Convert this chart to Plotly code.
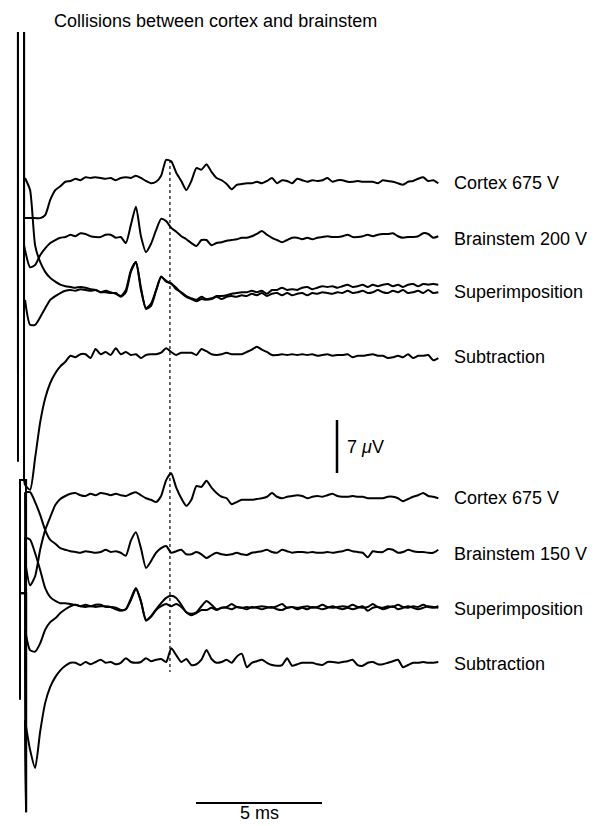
import plotly.graph_objects as go

# ---------------- data ----------------
SAMPLE_MS = 0.2
N_SAMPLES = 83
T_MS = [round(0.2 + SAMPLE_MS * k, 2) for k in range(N_SAMPLES)]  # sample times (ms)

LABELS = ["Cortex 675 V", "Brainstem 200 V", "Superimposition", "Subtraction",
          "Cortex 675 V", "Brainstem 150 V", "Superimposition", "Subtraction"]
TITLE = "Collisions between cortex and brainstem"

# responses in microvolts relative to each trace's own baseline
CORTEX_A = [-4.9, -4.9, -4.9, -4.9, -4.5, -2.5, -1.2, -0.7, -0.1, 0.0,
            0.3, 0.1, 0.5, 0.4, 0.5, 0.4, 0.3, 0.4, 0.1, 0.4,
            0.5, 0.4, 0.7, 0.4, 0.0, -0.3, -0.1, 0.7, 2.8, 2.6,
            1.1, 0.0, -1.2, 0.0, 1.7, 1.5, 2.2, 1.2, 0.4, 0.1,
            -0.4, -1.1, -0.5, -0.4, -0.3, -0.3, -0.1, -0.3, 0.0, 0.4,
            -0.3, 0.1, 0.0, -0.3, 0.3, 0.1, -0.1, 0.1, 0.0, 0.1,
            0.4, -0.1, 0.1, 0.1, -0.1, -0.1, 0.0, -0.1, -0.1, -0.1,
            -0.3, 0.1, 0.0, -0.1, -0.3, -0.5, -0.1, 0.0, 0.3, 0.5,
            0.0, 0.1, -0.3]
BRAINSTEM_200 = [-1.7, -4.0, -3.7, -2.4, -1.5, -0.8, -0.4, -0.1, 0.0, 0.3,
                 0.1, 0.5, 0.4, 0.1, 0.0, 0.0, 0.3, 0.3, -0.1, 0.0,
                 -0.8, 1.6, 4.0, 0.1, -2.0, -0.9, 0.9, 2.4, 2.1, 1.2,
                 0.7, 0.1, -0.3, -0.8, -1.2, -0.4, -0.4, -1.1, -0.8, -0.7,
                 -0.5, -0.4, -0.3, -0.1, -0.1, 0.1, 0.4, 0.8, 0.3, -0.1,
                 -0.4, -0.7, -0.4, -0.1, -0.1, -0.3, -0.1, -0.3, -0.1, 0.0,
                 0.1, 0.0, 0.0, 0.1, 0.3, 0.0, 0.0, 0.1, 0.3, 0.1,
                 0.3, 0.4, 0.4, 0.5, 0.1, -0.1, 0.0, 0.0, 0.1, 0.5,
                 0.4, -0.1, 0.1]
SUPERIMP_A1 = [14.8, 13.2, 5.9, 3.7, 2.4, 1.6, 1.1, 0.7, 0.5, 0.4,
               0.3, 0.4, 0.3, 0.1, 0.0, -0.3, -0.1, -0.3, -0.5, -0.8,
               0.0, 2.6, 3.7, 0.0, -2.4, -1.8, 0.0, 1.8, 1.1, 0.9,
               0.1, -0.3, -0.8, -1.1, -1.3, -0.9, -1.2, -1.1, -0.8, -0.8,
               -0.7, -0.5, -0.4, -0.3, -0.3, -0.1, -0.3, -0.1, -0.5, 0.0,
               0.0, 0.3, 0.0, 0.1, 0.0, 0.3, 0.4, 0.1, 0.3, 0.5,
               0.4, 0.5, 0.3, 0.5, 0.7, 0.4, 0.5, 0.7, 0.4, 0.7,
               0.5, 0.7, 0.8, 0.5, 0.7, 0.4, 0.7, 0.8, 0.5, 0.8,
               0.7, 0.8, 0.7]
SUPERIMP_A2 = [-1.3, -4.6, -4.6, -3.6, -2.4, -1.3, -0.8, -0.4, -0.1, 0.0,
               -0.1, 0.1, 0.0, -0.1, 0.0, -0.3, -0.3, -0.4, -0.4, -0.9,
               -0.3, 2.4, 3.7, 0.3, -2.5, -2.1, -0.1, 1.7, 1.2, 0.8,
               0.3, -0.4, -0.9, -1.2, -1.5, -1.2, -1.3, -1.2, -0.9, -1.2,
               -0.9, -0.8, -0.9, -0.7, -0.8, -0.5, -0.7, -0.4, -0.8, -0.5,
               -0.4, -0.7, -0.4, -0.7, -0.5, -0.4, -0.7, -0.4, -0.5, -0.3,
               -0.4, -0.5, -0.3, -0.4, -0.1, -0.4, -0.3, -0.1, -0.4, -0.3,
               0.0, -0.3, -0.4, -0.1, -0.3, 0.0, -0.4, -0.3, -0.1, -0.4,
               0.0, -0.4, -0.3]
SUBTRACT_A = [-17.2, -17.8, -13.6, -8.9, -5.7, -3.7, -2.4, -1.5, -0.9, -0.1,
              -0.3, 0.1, 0.1, -0.4, 0.8, 0.1, 0.4, 0.0, 0.9, 0.1,
              0.4, 0.0, 0.1, -0.4, 0.0, 0.1, 0.1, 0.3, 0.9, 0.4,
              0.0, 0.3, 0.3, 0.3, 0.0, 0.8, 0.5, 0.1, 0.0, 0.1,
              0.3, 0.1, 0.1, 0.1, 0.4, 0.7, 1.1, 0.7, 0.4, 0.0,
              0.0, 0.1, 0.0, 0.1, 0.0, 0.1, 0.0, 0.1, -0.1, 0.0,
              0.1, -0.1, 0.0, 0.0, 0.1, -0.3, -0.1, -0.1, 0.0, 0.1,
              -0.1, -0.1, -0.4, -0.3, -0.1, -0.3, 0.1, -0.4, -0.1, -0.1,
              0.0, -0.7, -0.4]
CORTEX_B = [-8.5, -11.8, -10.6, -7.1, -4.5, -2.8, -1.2, -0.4, 0.0, 0.3,
            0.4, 0.1, 0.0, 0.3, 0.1, 0.4, 0.3, 0.1, 0.3, 0.1,
            0.0, 0.3, 0.5, 0.1, -0.3, -0.5, -0.8, 0.0, 2.1, 3.0,
            1.1, -0.3, -1.3, -0.5, 1.3, 1.2, 2.0, 1.1, 0.4, -0.1,
            -0.3, -1.1, -0.8, -0.5, -0.5, -0.5, -0.4, -0.3, -0.1, 0.4,
            -0.1, -0.3, -0.1, 0.0, 0.1, 0.0, -0.3, -0.1, 0.0, -0.1,
            0.1, 0.3, 0.0, -0.1, -0.1, 0.0, -0.1, -0.1, -0.3, -0.3,
            -0.3, -0.3, -0.1, -0.1, -0.3, -0.7, -0.4, -0.1, 0.1, 0.4,
            0.0, -0.1, -0.3]
BRAINSTEM_150 = [7.9, 7.9, 6.6, 4.9, 2.9, 1.6, 1.1, 0.5, 0.3, 0.1,
                 0.0, -0.1, 0.1, 0.0, -0.1, 0.0, 0.3, 0.0, 0.1, -0.1,
                 -0.5, 1.5, 2.6, 0.5, -2.1, -1.2, -0.1, 0.5, 0.8, -0.1,
                 0.1, 0.3, -0.3, -0.3, 0.0, -0.3, -0.8, -0.4, -0.1, -0.3,
                 -0.4, -0.3, -0.1, -0.3, -0.4, -0.1, 0.0, 0.1, 0.3, 0.0,
                 -0.1, 0.3, 0.1, -0.1, 0.0, 0.0, -0.1, 0.0, -0.1, -0.1,
                 0.0, -0.1, 0.0, 0.1, 0.3, 0.1, 0.0, -0.1, -0.7, 0.1,
                 0.0, 0.0, 0.4, 0.3, -0.1, 0.0, 0.3, 0.1, 0.0, 0.0,
                 -0.1, -0.1, 0.3]
SUPERIMP_B1 = [9.2, 8.9, 7.1, 4.9, 2.5, 1.3, 0.8, 0.5, 0.5, 0.4,
               0.3, 0.1, 0.3, 0.1, 0.3, 0.3, 0.0, 0.0, -0.1, -0.4,
               -0.3, 1.1, 2.5, 0.8, -1.7, -1.2, -0.3, 0.5, 1.2, 1.5,
               1.2, 0.3, -0.7, -0.9, -0.7, 0.1, 0.8, 0.3, -0.3, -0.1,
               0.0, 0.4, 0.0, -0.1, 0.0, -0.1, 0.0, 0.1, 0.0, -0.1,
               0.1, 0.4, -0.1, 0.0, -0.1, 0.0, 0.1, -0.1, 0.0, 0.3,
               0.0, -0.1, 0.0, 0.1, 0.0, 0.3, 0.0, -0.1, 0.0, 0.4,
               0.0, -0.1, 0.1, 0.0, 0.3, 0.0, -0.1, 0.1, 0.0, 0.3,
               0.0, -0.1, 0.1]
SUPERIMP_B2 = [-3.0, -5.7, -5.9, -4.8, -3.0, -2.0, -1.5, -0.8, -0.3, 0.1,
               0.3, 0.1, 0.0, 0.1, 0.0, 0.1, 0.1, 0.0, -0.3, -0.5,
               -0.3, 0.9, 2.4, 0.7, -1.8, -1.3, -0.4, 0.1, 0.4, 0.1,
               0.4, 0.0, -0.7, -1.1, -0.8, -0.4, -0.4, -0.1, -0.4, -0.1,
               -0.1, -0.3, 0.0, -0.1, -0.3, 0.0, -0.1, -0.3, -0.1, 0.0,
               -0.3, -0.4, -0.1, 0.0, -0.3, -0.1, -0.3, 0.0, -0.1, -0.3,
               -0.1, 0.1, -0.1, -0.3, -0.1, -0.3, -0.1, 0.1, -0.5, -0.1,
               0.0, -0.3, -0.1, 0.1, -0.3, -0.1, 0.1, -0.1, -0.3, -0.1,
               0.1, 0.0, -0.1]
SUBTRACT_B = [-7.7, -11.6, -14.0, -9.2, -5.4, -3.3, -2.0, -1.1, -0.5, -0.1,
              -0.1, -0.4, 0.0, -0.3, 0.0, 0.3, -0.1, 0.0, -0.3, -0.1,
              0.5, 0.0, -0.1, 0.0, 0.5, 0.1, 0.3, 0.4, 0.0, 1.8,
              0.9, 0.0, 0.4, -0.4, -0.3, 0.3, 1.6, 0.4, -0.1, 0.0,
              0.3, -0.1, 0.7, 1.1, -0.7, -0.1, 0.1, 0.3, -0.1, -0.4,
              -0.5, -0.4, 0.5, -0.5, -0.3, -0.1, -0.1, -0.1, -0.3, -0.4,
              0.0, 0.0, -0.1, 0.0, 0.1, 0.3, -0.4, -0.5, -0.1, 0.0,
              -0.3, -0.3, -0.1, 0.1, 0.3, -0.7, -0.4, -0.1, -0.1, 0.0,
              -0.1, -0.1, 0.0]

# stimulus artefact (times in ms, levels in microvolts rel. to baseline; off-scale = saturated)
ART_T_UPPER = [-0.08, -0.08, 0.16, 0.16]
ART_T_LOWER = [0.0, 0.0, 0.24, 0.24]
ART_CORTEX_A = [12.3, 60.0, 60.0, -4.9]
ART_BRAINSTEM_200 = [-18.0, 60.0, 60.0, -1.1]
ART_SUPERIMP_A1 = [-3.3, 60.0, 60.0, 14.5]
ART_SUPERIMP_A2 = [-11.0, 60.0, 60.0, -2.6]
ART_SUBTRACT_A = [-14.1, 60.0, 60.0, -16.5]
ART_CORTEX_B = [-25.6, 2.1, 2.1, -41.7]
ART_BRAINSTEM_150 = [-1.1, 9.5, 9.5, -34.3]
ART_SUPERIMP_B1 = [-4.4, 1.8, 1.8, -27.1]
ART_SUPERIMP_B2 = [0.9, 1.8, 1.8, -27.1]
ART_SUBTRACT_B = [-5.0, 9.1, 9.1, -19.8]

SCALE_UV = 7
SCALE_MS = 5
MARKER_MS = 5.95  # dotted latency marker

# ---------------- layout helpers (positions, in reference-page pixels) ----------------
PX_PER_MS = 25.2
PX_PER_UV = 7.57
PAGE_W, PAGE_H = 613, 826
BODY = 8                      # default page margin around the figure
W, H = PAGE_W - BODY, PAGE_H - BODY
TOP_PX = 32                   # top of the data area (page pixels)
X0_PX = 20                    # stimulus time position (page pixels)


def ypx(px):
    return (PAGE_H - px) / PX_PER_UV


def xpx(px):
    return (px - X0_PX) / PX_PER_MS


BASELINE_PX = [181, 237, 290, 355, 496, 552, 607, 662]
OFFS = [ypx(p) for p in BASELINE_PX]

traces = [
    (CORTEX_A, ART_CORTEX_A, ART_T_UPPER, 0),
    (BRAINSTEM_200, ART_BRAINSTEM_200, ART_T_UPPER, 1),
    (SUPERIMP_A1, ART_SUPERIMP_A1, ART_T_UPPER, 2),
    (SUPERIMP_A2, ART_SUPERIMP_A2, ART_T_UPPER, 2),
    (SUBTRACT_A, ART_SUBTRACT_A, ART_T_UPPER, 3),
    (CORTEX_B, ART_CORTEX_B, ART_T_LOWER, 4),
    (BRAINSTEM_150, ART_BRAINSTEM_150, ART_T_LOWER, 5),
    (SUPERIMP_B1, ART_SUPERIMP_B1, ART_T_LOWER, 6),
    (SUPERIMP_B2, ART_SUPERIMP_B2, ART_T_LOWER, 6),
    (SUBTRACT_B, ART_SUBTRACT_B, ART_T_LOWER, 7),
]

LINE = dict(color="black", width=2)
fig = go.Figure()

# dotted latency marker
fig.add_trace(go.Scatter(x=[MARKER_MS, MARKER_MS], y=[ypx(160), ypx(672)], mode="lines",
                         line=dict(color="black", width=1.2, dash="dot"), hoverinfo="skip"))

for vals, art, art_t, row in traces:
    off = OFFS[row]
    fig.add_trace(go.Scatter(x=art_t + [T_MS[0]], y=[off + v for v in art + [vals[0]]],
                             mode="lines", line=LINE, hoverinfo="skip"))
    fig.add_trace(go.Scatter(x=T_MS, y=[off + v for v in vals], mode="lines",
                             line=dict(color="black", width=2, shape="spline", smoothing=0.6),
                             hoverinfo="skip"))

# scale bars
bar_x = xpx(337)
bar_y0 = ypx(473)
fig.add_trace(go.Scatter(x=[bar_x, bar_x], y=[bar_y0, bar_y0 + SCALE_UV], mode="lines",
                         line=dict(color="black", width=2.5), hoverinfo="skip"))
hb_x0 = xpx(196)
hb_y = ypx(803)
fig.add_trace(go.Scatter(x=[hb_x0, hb_x0 + SCALE_MS], y=[hb_y, hb_y], mode="lines",
                         line=dict(color="black", width=2), hoverinfo="skip"))

FONT = dict(family="Liberation Sans, Arial, Helvetica, sans-serif", size=18, color="black")
ann = []
for lab, off in zip(LABELS, OFFS):
    ann.append(dict(x=xpx(452), y=off - 0.2, text=lab, showarrow=False, xanchor="left",
                    yanchor="middle", font=FONT))
ann.append(dict(x=xpx(345), y=ypx(447), text="7 <i>μ</i>V", showarrow=False, xanchor="left",
                yanchor="middle", font=FONT))
ann.append(dict(x=hb_x0 + SCALE_MS / 2, y=ypx(813), text=f"{SCALE_MS} ms", showarrow=False,
                xanchor="center", yanchor="middle", font=FONT))
ann.append(dict(x=(52 - BODY) / W, xref="paper", y=(PAGE_H - 21) / (PAGE_H - TOP_PX), yref="paper",
                text=TITLE, showarrow=False, xanchor="left", yanchor="middle", font=FONT))

fig.update_layout(
    width=W, height=H, margin=dict(l=0, r=0, t=TOP_PX - BODY, b=0),
    paper_bgcolor="white", plot_bgcolor="white", showlegend=False,
    xaxis=dict(range=[xpx(BODY), xpx(PAGE_W)], visible=False, fixedrange=True),
    yaxis=dict(range=[ypx(PAGE_H), ypx(TOP_PX)], visible=False, fixedrange=True),
    annotations=ann,
)
fig.write_html("out.html")
